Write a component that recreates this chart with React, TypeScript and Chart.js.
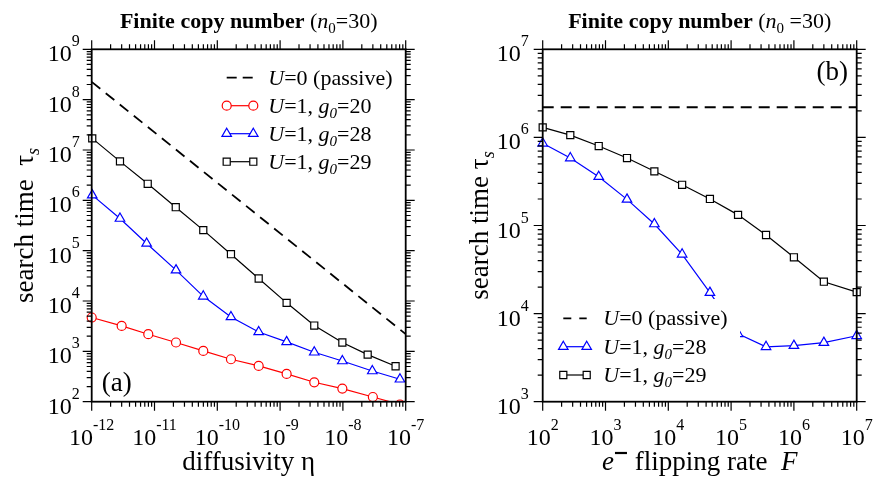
import React, { useEffect, useRef } from 'react';
import { Chart, registerables } from 'chart.js';
Chart.register(...registerables);

const FONT = '"Liberation Serif", "Times New Roman", serif';

// ---------- Panel (a): search time vs diffusivity ----------
const etaPassive = [1e-12, 1e-7];
const tauPassiveA = [2.25e8, 2.2e3];

const etaG20 = [1e-12, 3.0e-12, 7.96e-12, 2.2e-11, 5.98e-11, 1.65e-10, 4.56e-10, 1.27e-9, 3.5e-9, 9.8e-9, 3.0e-8, 8.1e-8];
const tauG20 = [4.7e3, 3.2e3, 2.19e3, 1.5e3, 1.02e3, 697, 513, 356, 243, 182, 124, 88];

const etaG28 = [1.02e-12, 2.82e-12, 7.5e-12, 2.2e-11, 5.98e-11, 1.65e-10, 4.56e-10, 1.27e-9, 3.5e-9, 9.8e-9, 2.94e-8, 8.1e-8];
const tauG28 = [1.27e6, 4.36e5, 1.39e5, 4.1e4, 1.24e4, 4.83e3, 2.43e3, 1.54e3, 960, 644, 407, 279];

const etaG29 = [1.02e-12, 2.82e-12, 7.8e-12, 2.18e-11, 5.98e-11, 1.65e-10, 4.56e-10, 1.27e-9, 3.5e-9, 9.8e-9, 2.48e-8, 6.9e-8];
const tauG29 = [1.7e7, 5.93e6, 2.13e6, 7.3e5, 2.56e5, 8.5e4, 2.8e4, 9.2e3, 3.26e3, 1.5e3, 863, 506];

const xTicksA = [1e-12, 1e-11, 1e-10, 1e-9, 1e-8, 1e-7];
const yTicksA = [1e2, 1e3, 1e4, 1e5, 1e6, 1e7, 1e8, 1e9];

// ---------- Panel (b): search time vs flipping rate ----------
const flipPassive = [1e2, 1e7];
const tauPassiveB = [2.2e6, 2.2e6];

const flipRate = [100, 275, 780, 2200, 6000, 16600, 46000, 129000, 360000, 1e6, 3e6, 1e7];
const tauFG28 = [8.57e5, 5.83e5, 3.58e5, 1.98e5, 1.04e5, 4.71e4, 1.73e4, 5.9e3, 4.2e3, 4.33e3, 4.68e3, 5.6e3];
const tauFG29 = [1.3e6, 1.06e6, 7.98e5, 5.83e5, 4.12e5, 2.9e5, 2.0e5, 1.32e5, 7.8e4, 4.36e4, 2.3e4, 1.75e4];

const xTicksB = [1e2, 1e3, 1e4, 1e5, 1e6, 1e7];
const yTicksB = [1e3, 1e4, 1e5, 1e6, 1e7];

// ---------- helpers ----------
type Part = { t: string; size: number; italic?: boolean; bold?: boolean; dy?: number; bar?: number };
const fontOf = (p: Part) => `${p.italic ? 'italic ' : ''}${p.bold ? 'bold ' : ''}${p.size}px ${FONT}`;

function partWidth(ctx: CanvasRenderingContext2D, p: Part) {
  if (p.bar) return p.bar + 2;
  ctx.font = fontOf(p);
  return ctx.measureText(p.t).width;
}

function drawRich(ctx: CanvasRenderingContext2D, x: number, y: number, parts: Part[], align: 'left' | 'center' | 'right' = 'left') {
  let w = 0;
  for (const p of parts) w += partWidth(ctx, p);
  let cx = align === 'center' ? x - w / 2 : align === 'right' ? x - w : x;
  ctx.textAlign = 'left';
  ctx.textBaseline = 'alphabetic';
  for (const p of parts) {
    if (p.bar) {
      ctx.fillRect(cx + 1, y + (p.dy || 0) - 1.1, p.bar, 2.2);
    } else {
      ctx.font = fontOf(p);
      ctx.fillText(p.t, cx, y + (p.dy || 0));
    }
    cx += partWidth(ctx, p);
  }
}

function drawMarker(ctx: CanvasRenderingContext2D, kind: string, x: number, y: number, r: number, color: string) {
  ctx.save();
  ctx.strokeStyle = color;
  ctx.fillStyle = '#fff';
  ctx.lineWidth = 1.2;
  ctx.setLineDash([]);
  ctx.beginPath();
  if (kind === 'circle') ctx.arc(x, y, r, 0, Math.PI * 2);
  else if (kind === 'triangle') {
    ctx.moveTo(x, y - r);
    ctx.lineTo(x + 0.866 * r, y + 0.5 * r);
    ctx.lineTo(x - 0.866 * r, y + 0.5 * r);
    ctx.closePath();
  } else {
    const h = r * Math.SQRT1_2;
    ctx.rect(x - h, y - h, 2 * h, 2 * h);
  }
  ctx.fill();
  ctx.stroke();
  ctx.restore();
}

function tickLabel(v: number): Part[] {
  return [{ t: '10', size: 24 }, { t: String(Math.round(Math.log10(v))), size: 16, dy: -15 }];
}

type LegendItem = { kind: string; color: string; dash?: number[]; r?: number; parts: Part[] };

type Decor = {
  title: Part[];
  xTitle: Part[];
  yTitle: Part[];
  yTitleX: number;
  xTicks: number[];
  yTicks: number[];
  yLabelGap: number;
  panel: { t: string; x: number; y: number; align: 'left' | 'right' };
  legend: { x0: number; x1: number; tx: number; rows: number[]; items: LegendItem[]; box?: number[] };
};

function decorPlugin(d: Decor) {
  return {
    id: 'decor',
    afterDatasetsDraw(chart: any) {
      const ctx: CanvasRenderingContext2D = chart.ctx;
      const { left, right, top, bottom } = chart.chartArea;
      const xs = chart.scales.x;
      const ys = chart.scales.y;
      ctx.save();
      ctx.fillStyle = '#000';

      // legend background
      if (d.legend.box) {
        const [bx0, by0, bx1, by1] = d.legend.box;
        ctx.fillStyle = '#fff';
        ctx.fillRect(bx0, by0, bx1 - bx0, by1 - by0);
        ctx.fillStyle = '#000';
      }

      // frame
      ctx.strokeStyle = '#000';
      ctx.lineWidth = 1.8;
      ctx.strokeRect(left, top, right - left, bottom - top);

      // ticks (outward, log minor ticks)
      ctx.lineWidth = 1.2;
      const logTicks = (min: number, max: number) => {
        const out: { v: number; major: boolean }[] = [];
        const e0 = Math.round(Math.log10(min));
        const e1 = Math.round(Math.log10(max));
        for (let e = e0; e < e1; e++) for (let m = 1; m <= 9; m++) out.push({ v: m * Math.pow(10, e), major: m === 1 });
        out.push({ v: max, major: true });
        return out;
      };
      ctx.beginPath();
      for (const t of logTicks(xs.min, xs.max)) {
        const px = xs.getPixelForValue(t.v);
        const len = t.major ? 9 : 5;
        ctx.moveTo(px, bottom); ctx.lineTo(px, bottom + len);
        ctx.moveTo(px, top); ctx.lineTo(px, top - len);
      }
      for (const t of logTicks(ys.min, ys.max)) {
        const py = ys.getPixelForValue(t.v);
        const len = t.major ? 9 : 5;
        ctx.moveTo(left, py); ctx.lineTo(left - len, py);
        ctx.moveTo(right, py); ctx.lineTo(right + len, py);
      }
      ctx.stroke();

      // tick labels
      for (const v of d.xTicks) drawRich(ctx, xs.getPixelForValue(v), 445, tickLabel(v), 'center');
      for (const v of d.yTicks) drawRich(ctx, left - d.yLabelGap, ys.getPixelForValue(v) + 12, tickLabel(v), 'right');

      // titles
      const cx = (left + right) / 2;
      const cy = (top + bottom) / 2;
      drawRich(ctx, cx, 28, d.title, 'center');
      drawRich(ctx, cx, 470, d.xTitle, 'center');
      ctx.save();
      ctx.translate(d.yTitleX, cy);
      ctx.rotate(-Math.PI / 2);
      drawRich(ctx, 0, 0, d.yTitle, 'center');
      ctx.restore();

      // panel label
      drawRich(ctx, d.panel.x, d.panel.y, [{ t: d.panel.t, size: 27 }], d.panel.align);

      // legend
      const L = d.legend;
      L.items.forEach((it, i) => {
        const y = L.rows[i];
        ctx.save();
        ctx.strokeStyle = it.color;
        if (it.kind === 'dash') {
          ctx.lineWidth = 1.8;
          ctx.setLineDash(it.dash || [10, 5]);
        } else ctx.lineWidth = 1.2;
        ctx.beginPath();
        ctx.moveTo(L.x0, y); ctx.lineTo(L.x1, y);
        ctx.stroke();
        ctx.restore();
        if (it.kind !== 'dash') {
          drawMarker(ctx, it.kind, L.x0, y, it.r || 5, it.color);
          drawMarker(ctx, it.kind, L.x1, y, it.r || 5, it.color);
        }
        ctx.fillStyle = '#000';
        drawRich(ctx, L.tx, y + 7, it.parts, 'left');
      });
      ctx.restore();
    },
  };
}

const U0: Part[] = [{ t: 'U', size: 22, italic: true }, { t: '=0 (passive)', size: 22 }];
const Ug = (g: string): Part[] => [
  { t: 'U', size: 22, italic: true },
  { t: '=1, ', size: 22 },
  { t: 'g', size: 22, italic: true },
  { t: '0', size: 15, italic: true, dy: 5 },
  { t: '=' + g, size: 22 },
];

function series(xs: number[], ys: number[]) {
  return xs.map((x, i) => ({ x, y: ys[i] }));
}

function lineDs(label: string, data: any[], color: string, style: string, r: number, clip: any) {
  return {
    label,
    data,
    borderColor: color,
    backgroundColor: '#fff',
    borderWidth: 1.2,
    pointStyle: style,
    pointRadius: r,
    pointBorderWidth: 1.2,
    pointBorderColor: color,
    pointBackgroundColor: '#fff',
    tension: 0,
    clip,
  };
}

function passiveDs(data: any[], clip: any) {
  return {
    label: 'U=0 (passive)',
    data,
    borderColor: '#000',
    borderWidth: 1.8,
    borderDash: [11, 7],
    pointRadius: 0,
    tension: 0,
    clip,
  };
}

function makeConfig(panel: 'a' | 'b'): any {
  const isA = panel === 'a';
  const clipA = { left: 8, top: 8, right: 8, bottom: 0 };
  const datasets = isA
    ? [
        passiveDs(series(etaPassive, tauPassiveA), clipA),
        lineDs('U=1, g0=20', series(etaG20, tauG20), '#ff0000', 'circle', 4.5, clipA),
        lineDs('U=1, g0=28', series(etaG28, tauG28), '#0000ff', 'triangle', 5.5, clipA),
        lineDs('U=1, g0=29', series(etaG29, tauG29), '#000000', 'rect', 5, clipA),
      ]
    : [
        passiveDs(series(flipPassive, tauPassiveB), false),
        lineDs('U=1, g0=28', series(flipRate, tauFG28), '#0000ff', 'triangle', 5.5, false),
        lineDs('U=1, g0=29', series(flipRate, tauFG29), '#000000', 'rect', 5, false),
      ];

  const decor: Decor = isA
    ? {
        title: [
          { t: 'Finite copy number ', size: 22, bold: true },
          { t: '(', size: 22 },
          { t: 'n', size: 22, italic: true },
          { t: '0', size: 15, dy: 5 },
          { t: '=30)', size: 22 },
        ],
        xTitle: [{ t: 'diffusivity η', size: 27 }],
        yTitle: [{ t: 'search time  τ', size: 27 }, { t: 's', size: 18, italic: true, dy: 6 }],
        yTitleX: 33,
        xTicks: xTicksA,
        yTicks: yTicksA,
        yLabelGap: 12,
        panel: { t: '(a)', x: 101.7, y: 391, align: 'left' },
        legend: {
          x0: 226.7, x1: 253.3, tx: 268.3,
          rows: [77.7, 105.7, 133.7, 161.7],
          items: [
            { kind: 'dash', color: '#000', dash: [10, 6], parts: U0 },
            { kind: 'circle', color: '#ff0000', r: 4.5, parts: Ug('20') },
            { kind: 'triangle', color: '#0000ff', r: 5.5, parts: Ug('28') },
            { kind: 'rect', color: '#000', r: 5, parts: Ug('29') },
          ],
        },
      }
    : {
        title: [
          { t: 'Finite copy number ', size: 22, bold: true },
          { t: '(', size: 22 },
          { t: 'n', size: 22, italic: true },
          { t: '0', size: 15, dy: 5 },
          { t: ' =30)', size: 22 },
        ],
        xTitle: [
          { t: 'e', size: 27, italic: true },
          { t: '', size: 27, bar: 12, dy: -17 },
          { t: ' flipping rate  ', size: 27 },
          { t: 'F', size: 27, italic: true },
        ],
        yTitle: [{ t: 'search time τ', size: 27 }, { t: 's', size: 18, italic: true, dy: 6 }],
        yTitleX: 52,
        xTicks: xTicksB,
        yTicks: yTicksB,
        yLabelGap: 14,
        panel: { t: '(b)', x: 412, y: 80, align: 'right' },
        legend: {
          x0: 127.3, x1: 150.7, tx: 167.3,
          rows: [318.3, 346.7, 375],
          box: [112, 299, 304, 392],
          items: [
            { kind: 'dash', color: '#000', dash: [8, 8], parts: U0 },
            { kind: 'triangle', color: '#0000ff', r: 5.5, parts: Ug('28') },
            { kind: 'rect', color: '#000', r: 5, parts: Ug('29') },
          ],
        },
      };

  return {
    type: 'line',
    data: { datasets },
    options: {
      responsive: false,
      animation: false,
      events: [],
      layout: isA
        ? { padding: { left: 91.7, right: 30.3, top: 49.3, bottom: 81.3 } }
        : { padding: { left: 106.7, right: 16.3, top: 49.3, bottom: 81.3 } },
      plugins: { legend: { display: false }, tooltip: { enabled: false }, title: { display: false } },
      scales: {
        x: {
          type: 'logarithmic',
          min: isA ? 1e-12 : 1e2,
          max: isA ? 1e-7 : 1e7,
          display: false,
        },
        y: {
          type: 'logarithmic',
          min: isA ? 1e2 : 1e3,
          max: isA ? 1e9 : 1e7,
          display: false,
        },
      },
    },
    plugins: [decorPlugin(decor)],
  };
}

export default function App() {
  const refA = useRef<HTMLCanvasElement>(null);
  const refB = useRef<HTMLCanvasElement>(null);
  useEffect(() => {
    const a = new Chart(refA.current!, makeConfig('a'));
    const b = new Chart(refB.current!, makeConfig('b'));
    return () => {
      a.destroy();
      b.destroy();
    };
  }, []);
  return (
    <div style={{ position: 'absolute', left: 0, top: 0, width: 873, height: 483, background: '#fff' }}>
      <canvas ref={refA} width={436} height={483} style={{ position: 'absolute', left: 0, top: 0, width: 436, height: 483 }} />
      <canvas ref={refB} width={437} height={483} style={{ position: 'absolute', left: 436, top: 0, width: 437, height: 483 }} />
    </div>
  );
}
